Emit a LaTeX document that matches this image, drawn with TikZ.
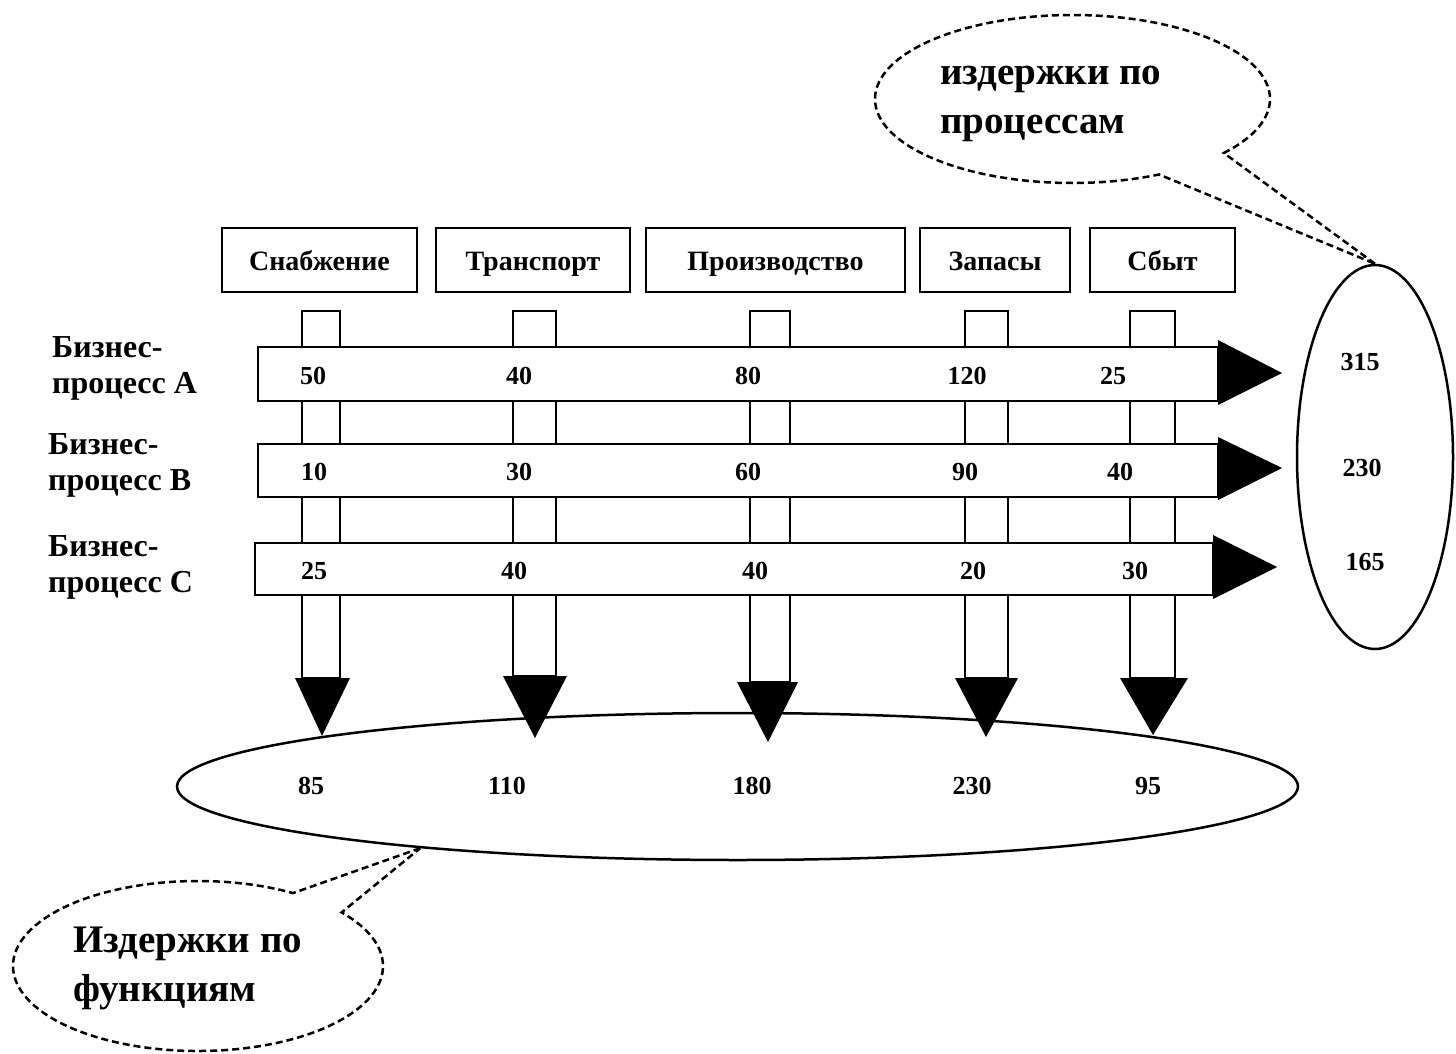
\documentclass[tikz,border=0pt]{standalone}
\usepackage{fontspec}
\setmainfont{Liberation Serif}
\usetikzlibrary{shapes.geometric,shapes.callouts}
\tikzset{
  fbox/.style={draw, line width=2.5pt, minimum height=64pt, inner sep=0pt, text height=22pt, text depth=2pt, font=\bfseries\fontsize{28}{34}\selectfont},
  num/.style={inner sep=0pt, font=\bfseries\fontsize{26}{30}\selectfont},
  lbl/.style={anchor=west, align=left, inner sep=0pt, font=\bfseries\fontsize{32}{36}\selectfont},
  notetext/.style={anchor=west, align=left, inner sep=0pt, font=\bfseries\fontsize{39}{49}\selectfont},
  bubble/.style={draw, line width=2.5pt, dash pattern=on 7pt off 4pt, inner sep=0pt, ellipse callout},
  outl/.style={draw, line width=2.5pt},
}
\begin{document}
\begin{tikzpicture}[x=1pt, y=-1pt]
\useasboundingbox (0,0) rectangle (1456,1054);

% function boxes
\node[fbox, minimum width=195pt] (f1) at (319.5,260) {Снабжение};
\node[fbox, minimum width=194pt] (f2) at (533,260) {Транспорт};
\node[fbox, minimum width=259pt] (f3) at (775.5,260) {Производство};
\node[fbox, minimum width=150pt] (f4) at (995,260) {Запасы};
\node[fbox, minimum width=145pt] (f5) at (1162.5,260) {Сбыт};

% bottom ellipse (costs by function)
\node[ellipse, outl, minimum width=1121pt, minimum height=147pt, inner sep=0pt] (fe) at (737.5,786.5) {};
% right ellipse (costs by process)
\node[ellipse, outl, minimum width=156pt, minimum height=384pt, inner sep=0pt] (pr) at (1375,457) {};

% vertical function arrows
\foreach \xl/\xr/\hl/\hr/\tx/\ty/\ht in {302/340/295/350/322/736/678,
    513/556/503/567/535/738/676, 750/790/737/798/768/742/682,
    965/1008/955/1018/986/737/678, 1130/1175/1120/1188/1153/735/678}{
  \draw[line width=2.5pt, fill=white] (\xl,311) rectangle (\xr,\ht);
  \fill (\hl,\ht) -- (\hr,\ht) -- (\tx,\ty) -- cycle;
}

% horizontal process arrows
\draw[line width=2.5pt, fill=white] (258,347) rectangle (1218,401);
\fill (1218,340) -- (1282,373) -- (1218,405) -- cycle;
\draw[line width=2.5pt, fill=white] (258,444) rectangle (1218,497);
\fill (1218,437) -- (1282,468) -- (1218,500) -- cycle;
\draw[line width=2.5pt, fill=white] (255,543) rectangle (1213,595);
\fill (1213,535) -- (1277,567) -- (1213,599) -- cycle;

% process labels
\node[lbl] (la) at (52,368) {Бизнес-\\процесс A};
\node[lbl] (lb) at (48,465) {Бизнес-\\процесс B};
\node[lbl] (lc) at (48,567) {Бизнес-\\процесс C};

% numbers in bars
\node[num] (a1) at (313,376) {50};
\node[num] (a2) at (519,376) {40};
\node[num] (a3) at (748,376) {80};
\node[num] (a4) at (967,376) {120};
\node[num] (a5) at (1113,376) {25};
\node[num] (b1) at (314,472) {10};
\node[num] (b2) at (519,472) {30};
\node[num] (b3) at (748,472) {60};
\node[num] (b4) at (965,472) {90};
\node[num] (b5) at (1120,472) {40};
\node[num] (c1) at (314,571) {25};
\node[num] (c2) at (514,571) {40};
\node[num] (c3) at (755,571) {40};
\node[num] (c4) at (973,571) {20};
\node[num] (c5) at (1135,571) {30};

% totals by function
\node[num] (t1) at (311,786) {85};
\node[num] (t2) at (507,786) {110};
\node[num] (t3) at (752,786) {180};
\node[num] (t4) at (972,786) {230};
\node[num] (t5) at (1148,786) {95};

% totals by process
\node[num] (p1) at (1360,362) {315};
\node[num] (p2) at (1362,468) {230};
\node[num] (p3) at (1365,562) {165};

% callouts
\node[bubble, minimum width=395pt, minimum height=168pt,
      callout absolute pointer={(pr.north)}, callout pointer arc=24] (cp) at (1072.5,99) {};
\node[notetext] (cpt) at (940,104) {издержки по\\процессам};
\node[bubble, minimum width=370pt, minimum height=170pt,
      callout absolute pointer={(fe.191.5)}, callout pointer arc=20] (cf) at (198,966) {};
\node[notetext] (cft) at (73,968) {Издержки по\\функциям};
\end{tikzpicture}
\end{document}
